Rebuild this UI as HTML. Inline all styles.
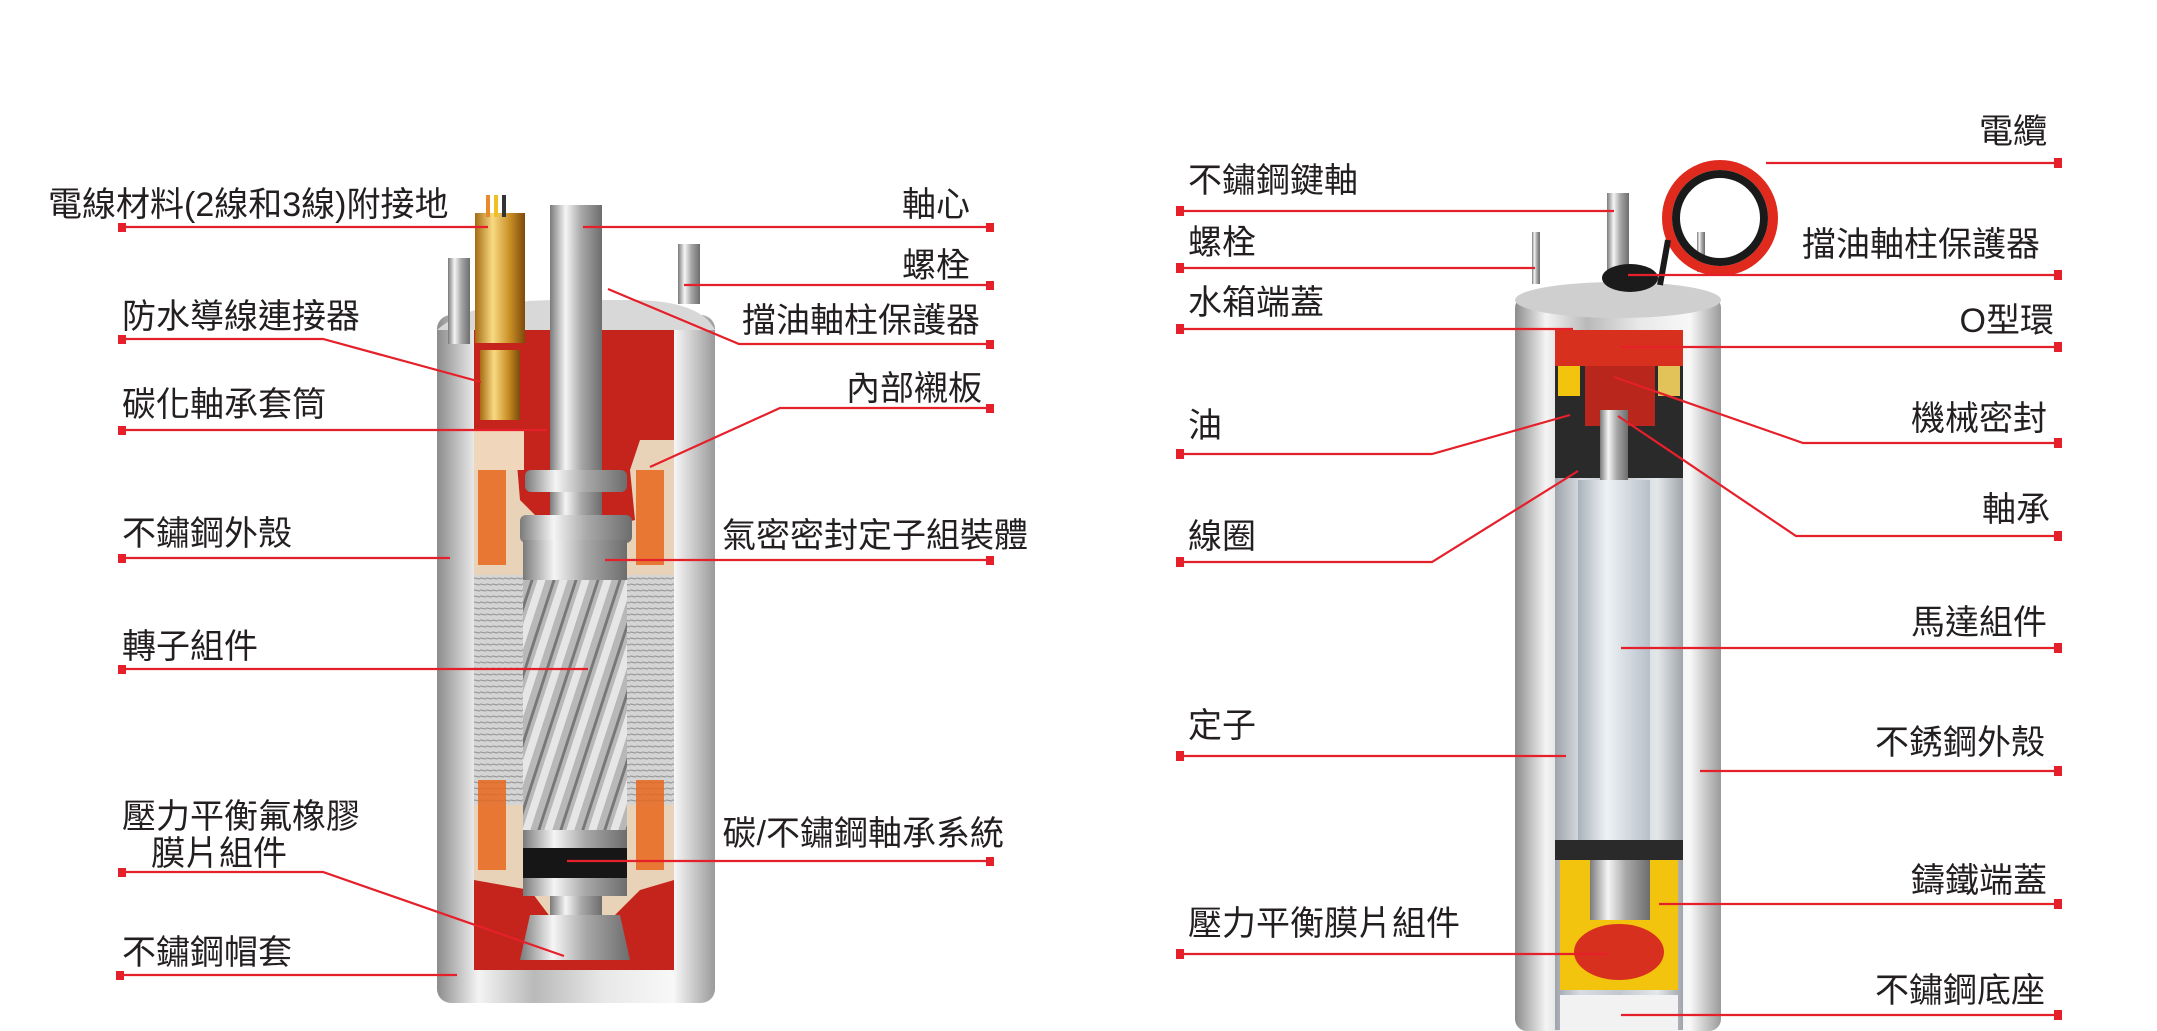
<!DOCTYPE html>
<html><head><meta charset="utf-8">
<style>
html,body{margin:0;padding:0;background:#fff;}
svg{display:block;}
text{font-family:"Liberation Sans","Noto Sans CJK TC",sans-serif;font-size:34px;fill:#231f20;}
.l{stroke:#e5202a;stroke-width:2.2;fill:none;}
.s{fill:#e5202a;}
</style></head><body>
<svg width="2157" height="1031" viewBox="0 0 2157 1031" xmlns="http://www.w3.org/2000/svg">
<defs>
<linearGradient id="met" x1="0" x2="1" y1="0" y2="0">
<stop offset="0" stop-color="#8c8c8c"/><stop offset="0.15" stop-color="#f4f4f4"/><stop offset="0.35" stop-color="#b9b9b9"/><stop offset="0.6" stop-color="#e8e8e8"/><stop offset="0.85" stop-color="#f8f8f8"/><stop offset="1" stop-color="#9a9a9a"/>
</linearGradient>
<linearGradient id="shaft" x1="0" x2="1">
<stop offset="0" stop-color="#7a7a7a"/><stop offset="0.3" stop-color="#f5f5f5"/><stop offset="0.6" stop-color="#a8a8a8"/><stop offset="1" stop-color="#6d6d6d"/>
</linearGradient>
<linearGradient id="gold" x1="0" x2="1">
<stop offset="0" stop-color="#a66b12"/><stop offset="0.35" stop-color="#f8da82"/><stop offset="0.7" stop-color="#c98e25"/><stop offset="1" stop-color="#7b4b0a"/>
</linearGradient>
<linearGradient id="tube" x1="0" x2="1">
<stop offset="0" stop-color="#a9b2bc"/><stop offset="0.4" stop-color="#eef2f6"/><stop offset="1" stop-color="#b7c0c9"/>
</linearGradient>
<linearGradient id="inner" x1="0" x2="1">
<stop offset="0" stop-color="#9ea4ab"/><stop offset="0.2" stop-color="#d9dde2"/><stop offset="0.5" stop-color="#c2c8cf"/><stop offset="0.8" stop-color="#e4e7ea"/><stop offset="1" stop-color="#a0a5aa"/>
</linearGradient>
<pattern id="lam" width="6" height="6" patternUnits="userSpaceOnUse">
<rect width="6" height="6" fill="#d4d4d4"/><line x1="0" y1="2" x2="6" y2="3" stroke="#9a9a9a" stroke-width="1.3"/>
</pattern>
<pattern id="rot" width="22" height="60" patternUnits="userSpaceOnUse" patternTransform="skewX(-18)">
<rect width="22" height="60" fill="#b8b8b8"/><rect x="0" width="8" height="60" fill="#e6e6e6"/><rect x="15" width="3" height="60" fill="#777"/>
</pattern>
</defs>

<!-- LEFT MOTOR -->
<rect x="437" y="315" width="278" height="688" rx="14" fill="url(#met)"/>
<path d="M437 330 Q470 300 560 300 L630 300 Q700 300 715 330 Z" fill="#d8d8d8"/>
<rect x="448" y="258" width="22" height="86" fill="url(#shaft)"/>
<rect x="678" y="244" width="22" height="60" fill="url(#shaft)"/>
<rect x="474" y="330" width="200" height="640" fill="#e9d3b8"/>
<path d="M474 330 L674 330 L674 440 L640 440 L630 470 L635 520 L560 540 L520 500 L515 440 L474 430 Z" fill="#c4241c"/>
<rect x="474" y="430" width="50" height="40" fill="#f0d6bb"/>
<rect x="474" y="575" width="200" height="230" fill="url(#lam)"/>
<rect x="478" y="470" width="28" height="95" fill="#e8661c" opacity="0.85"/>
<rect x="636" y="470" width="28" height="95" fill="#e8661c" opacity="0.85"/>
<rect x="478" y="780" width="28" height="90" fill="#e8661c" opacity="0.85"/>
<rect x="636" y="780" width="28" height="90" fill="#e8661c" opacity="0.85"/>
<path d="M474 880 L530 890 L560 930 L600 930 L640 890 L674 880 L674 970 L474 970 Z" fill="#c4241c"/>
<rect x="475" y="213" width="50" height="130" fill="url(#gold)"/>
<rect x="486" y="195" width="4" height="22" fill="#e88a2a"/><rect x="494" y="195" width="4" height="22" fill="#f0c020"/><rect x="502" y="195" width="4" height="22" fill="#333"/>
<rect x="480" y="350" width="40" height="70" fill="url(#gold)"/>
<rect x="550" y="205" width="52" height="750" fill="url(#shaft)"/>
<rect x="525" y="470" width="102" height="22" rx="6" fill="url(#shaft)"/>
<rect x="520" y="515" width="112" height="28" rx="6" fill="url(#shaft)"/>
<rect x="523" y="545" width="104" height="295" fill="url(#rot)"/>
<rect x="523" y="540" width="104" height="40" fill="url(#shaft)"/>
<rect x="523" y="830" width="104" height="18" fill="url(#shaft)"/>
<rect x="523" y="848" width="104" height="30" fill="#161616"/>
<rect x="523" y="878" width="104" height="18" fill="url(#shaft)"/>
<path d="M530 915 L620 915 L630 960 L520 960 Z" fill="url(#shaft)"/>

<!-- RIGHT MOTOR -->
<rect x="1515" y="296" width="206" height="735" rx="12" fill="url(#met)"/>
<ellipse cx="1618" cy="300" rx="103" ry="18" fill="#cfcfcf"/>
<rect x="1532" y="232" width="8" height="52" fill="url(#shaft)"/>
<rect x="1697" y="232" width="8" height="40" fill="url(#shaft)"/>
<rect x="1607" y="193" width="22" height="85" fill="url(#shaft)"/>
<ellipse cx="1630" cy="278" rx="28" ry="14" fill="#1b1b1b"/>
<circle cx="1720" cy="218" r="53" fill="none" stroke="#e12a1e" stroke-width="10"/>
<circle cx="1720" cy="218" r="44" fill="none" stroke="#1a1a1a" stroke-width="8"/>
<line x1="1668" y1="240" x2="1660" y2="285" stroke="#1a1a1a" stroke-width="6"/>
<rect x="1555" y="330" width="128" height="700" fill="url(#inner)"/>
<rect x="1555" y="366" width="128" height="112" fill="#2a2a2a"/>
<rect x="1555" y="330" width="128" height="36" fill="#d8301e"/>
<rect x="1558" y="366" width="22" height="30" fill="#f2c40e"/>
<rect x="1658" y="366" width="22" height="30" fill="#e1c35a"/>
<rect x="1585" y="366" width="70" height="60" fill="#b8261c"/>
<rect x="1578" y="480" width="72" height="370" fill="url(#tube)"/>
<rect x="1600" y="410" width="28" height="70" fill="url(#shaft)"/>
<rect x="1555" y="840" width="128" height="20" fill="#2a2a2a"/>
<rect x="1560" y="860" width="118" height="130" fill="#f2c40e"/>
<rect x="1590" y="860" width="60" height="60" fill="url(#shaft)"/>
<ellipse cx="1619" cy="952" rx="45" ry="28" fill="#d8301e"/>
<rect x="1560" y="995" width="118" height="36" fill="#f2f2f2"/>

<g class="l">
<polyline points="122,227 488,227"/>
<polyline points="122,339 323,339 481,382"/>
<polyline points="122,430 547,430"/>
<polyline points="122,558 450,558"/>
<polyline points="122,669 588,669"/>
<polyline points="122,872 323,872 564,956"/>
<polyline points="120,975 457,975"/>
<polyline points="583,227 990,227"/>
<polyline points="684,285 990,285"/>
<polyline points="608,289 739,344 990,344"/>
<polyline points="650,467 780,408 990,408"/>
<polyline points="605,560 990,560"/>
<polyline points="567,861 990,861"/>
</g>
<g class="s">
<rect x="118" y="223" width="8" height="9"/><rect x="118" y="335" width="8" height="9"/><rect x="118" y="426" width="8" height="9"/>
<rect x="118" y="554" width="8" height="9"/><rect x="118" y="665" width="8" height="9"/><rect x="118" y="868" width="8" height="9"/>
<rect x="116" y="971" width="8" height="9"/>
<rect x="986" y="223" width="8" height="9"/><rect x="986" y="281" width="8" height="9"/><rect x="986" y="340" width="8" height="9"/>
<rect x="986" y="404" width="8" height="9"/><rect x="986" y="556" width="8" height="9"/><rect x="986" y="857" width="8" height="9"/>
</g>
<text x="48" y="216">電線材料(2線和3線)附接地</text>
<text x="122" y="328">防水導線連接器</text>
<text x="122" y="416">碳化軸承套筒</text>
<text x="122" y="545">不鏽鋼外殼</text>
<text x="122" y="658">轉子組件</text>
<text x="122" y="828">壓力平衡氟橡膠</text>
<text x="151" y="865">膜片組件</text>
<text x="122" y="964">不鏽鋼帽套</text>
<g text-anchor="end">
<text x="970" y="216">軸心</text>
<text x="970" y="277">螺栓</text>
<text x="980" y="332">擋油軸柱保護器</text>
<text x="982" y="400">內部襯板</text>
<text x="1028" y="547">氣密密封定子組裝體</text>
<text x="1004" y="845">碳/不鏽鋼軸承系統</text>
</g>

<g class="l">
<polyline points="1766,163 2058,163"/>
<polyline points="1180,211 1614,211"/>
<polyline points="1180,268 1535,268"/>
<polyline points="1628,275 2058,275"/>
<polyline points="1180,329 1573,329"/>
<polyline points="1621,347 2058,347"/>
<polyline points="1614,377 1803,443 2058,443"/>
<polyline points="1180,454 1432,454 1570,415"/>
<polyline points="1618,416 1796,536 2058,536"/>
<polyline points="1180,562 1432,562 1578,471"/>
<polyline points="1621,648 2058,648"/>
<polyline points="1180,756 1566,756"/>
<polyline points="1700,771 2058,771"/>
<polyline points="1659,904 2058,904"/>
<polyline points="1180,954 1607,954"/>
<polyline points="1621,1015 2058,1015"/>
</g>
<g class="s">
<rect x="2054" y="158" width="8" height="10"/><rect x="2054" y="270" width="8" height="10"/><rect x="2054" y="342" width="8" height="10"/>
<rect x="2054" y="438" width="8" height="10"/><rect x="2054" y="531" width="8" height="10"/><rect x="2054" y="643" width="8" height="10"/>
<rect x="2054" y="766" width="8" height="10"/><rect x="2054" y="899" width="8" height="10"/><rect x="2054" y="1010" width="8" height="10"/>
<rect x="1176" y="206" width="8" height="10"/><rect x="1176" y="263" width="8" height="10"/><rect x="1176" y="324" width="8" height="10"/>
<rect x="1176" y="449" width="8" height="10"/><rect x="1176" y="557" width="8" height="10"/><rect x="1176" y="751" width="8" height="10"/>
<rect x="1176" y="949" width="8" height="10"/>
</g>
<text x="1188" y="192">不鏽鋼鍵軸</text>
<text x="1188" y="254">螺栓</text>
<text x="1188" y="314">水箱端蓋</text>
<text x="1188" y="437">油</text>
<text x="1188" y="548">線圈</text>
<text x="1188" y="737">定子</text>
<text x="1188" y="935">壓力平衡膜片組件</text>
<g text-anchor="end">
<text x="2047" y="143">電纜</text>
<text x="2040" y="256">擋油軸柱保護器</text>
<text x="2054" y="332">O型環</text>
<text x="2047" y="430">機械密封</text>
<text x="2050" y="521">軸承</text>
<text x="2047" y="634">馬達組件</text>
<text x="2045" y="754">不銹鋼外殼</text>
<text x="2047" y="892">鑄鐵端蓋</text>
<text x="2045" y="1002">不鏽鋼底座</text>
</g>
</svg>
</body></html>
